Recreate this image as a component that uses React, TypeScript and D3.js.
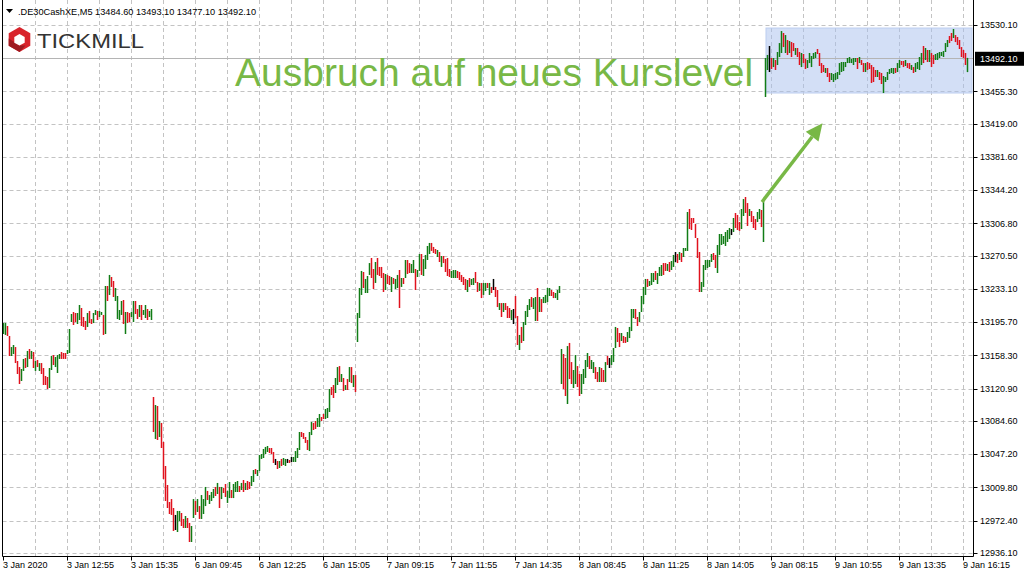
import React from "react";
import * as d3 from "d3";

// ---- Data (DE30 CashXE, M5) : bar highs / lows / direction (u=up, d=down, n=unchanged)
const jan3High = [
  13194.8, 13194.8, 13191.5, 13180.2, 13167.8, 13170.1, 13167.8, 13152.1, 13145.3, 13143.1,
  13154.4, 13155.5, 13163.4, 13165.6, 13163.4, 13162.2, 13152.1, 13153.2, 13149.8, 13149.8,
  13144.2, 13135.2, 13134.1, 13144.2, 13157.7, 13158.8, 13156.6, 13158.8, 13160.0, 13162.2,
  13161.1, 13161.1, 13164.5, 13188.1, 13205.0, 13207.2, 13206.1, 13206.1, 13215.1, 13211.7,
  13201.6, 13197.1, 13206.1, 13208.4, 13199.3, 13206.1, 13209.5, 13208.4, 13208.4, 13207.2,
  13203.9, 13236.5, 13236.5, 13248.9, 13246.6, 13242.1, 13234.2, 13225.2, 13209.5, 13219.6,
  13220.7, 13207.2, 13207.2, 13206.1, 13207.2, 13219.6, 13219.6, 13210.6, 13215.1, 13215.1,
  13209.5, 13215.1, 13210.6, 13208.4, 13210.6,
];
const jan3Low = [
  13182.5, 13181.4, 13180.2, 13157.7, 13157.7, 13160.0, 13149.8, 13137.5, 13126.2, 13129.6,
  13140.9, 13144.2, 13145.3, 13154.4, 13154.4, 13144.2, 13140.9, 13145.3, 13140.9, 13137.5,
  13125.1, 13125.1, 13120.6, 13121.7, 13142.0, 13147.6, 13145.3, 13138.6, 13154.4, 13154.4,
  13154.4, 13154.4, 13160.0, 13161.1, 13196.0, 13192.6, 13196.0, 13193.7, 13198.2, 13191.5,
  13190.4, 13187.0, 13190.4, 13194.8, 13193.7, 13194.8, 13203.9, 13198.2, 13201.6, 13203.9,
  13181.4, 13182.5, 13219.6, 13226.4, 13235.4, 13224.1, 13219.6, 13199.3, 13198.2, 13203.9,
  13193.7, 13182.5, 13194.8, 13196.0, 13201.6, 13196.0, 13205.0, 13199.3, 13201.6, 13198.2,
  13203.9, 13200.5, 13198.2, 13201.6, 13198.2,
];
const jan3Dir =
  "uudduudddu" + "ududududud" + "ddduuduuud" + "dduuudduud" + "ddudduuduu" +
  "dududduuuu" + "dudduuddud" + "uuduu";

const jan6High = [
  13111.6, 13102.6, 13101.5, 13084.6, 13082.4, 13061.0, 13034.0, 13012.6, 12993.5, 12996.8,
  12986.7, 12978.9, 12983.4, 12983.4, 12981.1, 12974.4, 12977.7, 12975.5, 12969.9, 12966.5,
  12996.8, 12994.6, 12996.8, 12988.9, 13001.3, 12996.8, 13010.4, 13005.9, 13001.3, 13004.7,
  13008.1, 13010.4, 13014.9, 13010.4, 13010.4, 13009.2, 13013.7, 13005.9, 13016.0, 13007.0,
  13013.7, 13016.0, 13017.1, 13011.5, 13014.9, 13018.2, 13014.9, 13017.1, 13016.0, 13022.7,
  13029.5, 13030.6, 13029.5, 13046.3, 13047.5, 13053.1, 13055.4, 13056.5, 13054.2, 13054.2,
  13049.7, 13041.9, 13039.6, 13039.6, 13041.9, 13043.0, 13041.9, 13041.9, 13040.7, 13044.1,
  13044.1, 13050.8, 13054.2, 13072.2, 13072.2, 13071.1, 13066.6, 13063.2, 13072.2, 13083.5,
  13082.4, 13084.6, 13088.0, 13092.5, 13089.1, 13092.5, 13098.1, 13099.2, 13120.6, 13122.8,
  13125.1, 13133.0, 13145.3, 13146.4, 13137.5, 13133.0, 13125.1, 13131.8, 13145.3, 13145.3,
  13136.3, 13136.3,
];
const jan6Low = [
  13072.2, 13064.4, 13063.2, 13066.6, 13054.2, 13019.4, 12994.6, 12986.7, 12980.0, 12978.9,
  12960.9, 12962.0, 12959.7, 12972.1, 12966.5, 12964.2, 12964.2, 12964.2, 12948.5, 12948.5,
  12975.5, 12978.9, 12982.2, 12974.4, 12974.4, 12980.0, 12988.9, 12995.7, 12991.2, 12994.6,
  12997.9, 13000.2, 13002.5, 12986.7, 12996.8, 13003.6, 12999.1, 12992.4, 12997.9, 12997.9,
  12997.9, 13004.7, 13004.7, 13004.7, 13007.0, 13004.7, 13007.0, 13007.0, 13008.1, 13011.5,
  13016.0, 13024.9, 13022.7, 13028.3, 13041.9, 13043.0, 13047.5, 13049.7, 13048.6, 13047.5,
  13037.4, 13035.1, 13030.6, 13031.7, 13034.0, 13035.1, 13034.0, 13037.4, 13037.4, 13038.5,
  13038.5, 13038.5, 13043.0, 13052.0, 13066.6, 13064.4, 13059.9, 13052.0, 13050.8, 13068.8,
  13074.5, 13075.6, 13077.9, 13077.9, 13084.6, 13086.8, 13086.8, 13088.0, 13094.7, 13113.8,
  13110.5, 13116.1, 13125.1, 13128.5, 13128.5, 13118.3, 13119.5, 13119.5, 13128.5, 13127.3,
  13122.8, 13117.2,
];
const jan6Dir =
  "dududddddd" + "dnuudduddu" + "ududuuuduu" + "udududduud" + "uuudududdu" +
  "uduuuuuudd" + "dnduduundn" + "uuuudddduu" + "dduudduuud" + "duudududud" + "ud";

const jan7High = [
  13206.1, 13234.2, 13253.4, 13252.2, 13244.4, 13247.7, 13262.3, 13268.0, 13255.6, 13263.5,
  13268.0, 13257.9, 13257.9, 13251.1, 13250.0, 13248.9, 13247.7, 13246.6, 13245.5, 13244.4,
  13248.9, 13254.5, 13245.5, 13245.5, 13265.7, 13265.7, 13262.3, 13261.2, 13265.7, 13255.6,
  13254.5, 13272.5, 13272.5, 13266.8, 13271.4, 13281.5, 13284.9, 13284.9, 13280.4, 13278.1,
  13277.0, 13274.7, 13270.2, 13270.2, 13266.8, 13268.0, 13255.6, 13253.4, 13254.5, 13254.5,
  13253.4, 13252.2, 13248.9, 13246.6, 13244.4, 13243.2, 13245.5, 13244.4, 13245.5, 13252.2,
  13241.0, 13239.9, 13239.9, 13239.9, 13239.9, 13239.9, 13239.9, 13235.4, 13244.4, 13235.4,
  13232.0, 13217.3, 13217.3, 13217.3, 13217.3, 13213.9, 13211.7, 13209.5, 13210.6, 13225.2,
  13202.7, 13181.4, 13190.4, 13196.0, 13208.4, 13215.1, 13221.8, 13224.1, 13222.9, 13224.1,
  13234.2, 13224.1, 13221.8, 13224.1, 13226.4, 13234.2, 13234.2, 13232.0, 13229.7, 13228.6,
  13232.0, 13236.5,
];
const jan7Low = [
  13173.5, 13200.5, 13226.4, 13234.2, 13228.6, 13228.6, 13248.9, 13245.5, 13233.1, 13239.9,
  13248.9, 13247.7, 13245.5, 13229.7, 13232.0, 13238.7, 13237.6, 13229.7, 13238.7, 13233.1,
  13234.2, 13211.7, 13235.4, 13238.7, 13245.5, 13250.0, 13251.1, 13251.1, 13251.1, 13232.0,
  13246.6, 13253.4, 13248.9, 13247.7, 13255.6, 13265.7, 13272.5, 13275.9, 13273.6, 13272.5,
  13269.1, 13263.5, 13257.9, 13262.3, 13252.2, 13247.7, 13246.6, 13245.5, 13245.5, 13245.5,
  13245.5, 13243.2, 13241.0, 13237.6, 13232.0, 13229.7, 13235.4, 13237.6, 13237.6, 13239.9,
  13229.7, 13230.9, 13222.9, 13226.4, 13230.9, 13234.2, 13226.4, 13228.6, 13232.0, 13224.1,
  13212.8, 13209.5, 13201.6, 13207.2, 13209.5, 13200.5, 13200.5, 13198.2, 13193.7, 13200.5,
  13170.1, 13164.5, 13172.4, 13174.6, 13192.6, 13201.6, 13209.5, 13212.8, 13210.6, 13197.1,
  13197.1, 13207.2, 13207.2, 13217.3, 13217.3, 13218.5, 13225.2, 13225.2, 13222.9, 13222.9,
  13220.7, 13228.6,
];
const jan7Dir =
  "uuuduuuddu" + "dddduddudu" + "udududduud" + "uuduuuuddd" + "ududdddu" + "uu" +
  "ddddduduud" + "duduududnd" + "dududddund" + "duduuuuduu" + "duduuuuddu" + "uu";

const jan8High = [
  13165.6, 13160.0, 13155.5, 13168.9, 13172.4, 13150.9, 13142.0, 13158.8, 13146.4, 13137.5,
  13137.5, 13143.1, 13153.2, 13161.1, 13157.7, 13153.2, 13150.9, 13145.3, 13139.7, 13145.3,
  13144.2, 13142.0, 13150.9, 13157.7, 13155.5, 13158.8, 13166.7, 13190.4, 13189.2, 13183.6,
  13183.6, 13180.2, 13179.1, 13184.7, 13190.4, 13210.6, 13210.6, 13210.6, 13201.6, 13207.2,
  13225.2, 13235.4, 13244.4, 13244.4, 13242.1, 13251.1, 13251.1, 13253.4, 13251.1, 13257.9,
  13260.1, 13262.3, 13262.3, 13261.2, 13263.5, 13264.6, 13271.4, 13274.7, 13272.5, 13274.7,
  13273.6, 13279.2, 13279.2, 13319.7, 13323.1, 13313.0, 13313.0, 13306.2, 13290.5, 13274.7,
  13241.0, 13260.1, 13265.7, 13265.7, 13265.7, 13272.5, 13273.6, 13271.4, 13282.6, 13295.0,
  13295.0, 13292.7, 13297.2, 13299.5, 13301.7, 13300.6, 13313.0, 13318.6, 13316.4, 13308.5,
  13323.1, 13334.3, 13336.6, 13329.8, 13323.1, 13320.8, 13315.2, 13311.8, 13319.7, 13323.1,
  13322.0, 13332.1,
];
const jan8Low = [
  13126.2, 13120.6, 13112.7, 13103.7, 13131.8, 13126.2, 13121.7, 13126.2, 13122.8, 13112.7,
  13115.0, 13126.2, 13133.0, 13145.3, 13143.1, 13143.1, 13138.6, 13131.8, 13128.5, 13128.5,
  13128.5, 13128.5, 13128.5, 13147.6, 13144.2, 13147.6, 13150.9, 13166.7, 13173.5, 13167.8,
  13174.6, 13172.4, 13172.4, 13173.5, 13177.9, 13185.8, 13200.5, 13199.3, 13191.5, 13196.0,
  13207.2, 13216.2, 13226.4, 13235.4, 13236.5, 13237.6, 13241.0, 13243.2, 13238.7, 13247.7,
  13247.7, 13248.9, 13253.4, 13253.4, 13252.2, 13254.5, 13257.9, 13263.5, 13262.3, 13265.7,
  13263.5, 13269.1, 13275.9, 13275.9, 13300.6, 13299.5, 13307.4, 13290.5, 13268.0, 13229.7,
  13229.7, 13235.4, 13254.5, 13256.7, 13257.9, 13263.5, 13265.7, 13256.7, 13251.1, 13271.4,
  13282.6, 13283.7, 13281.5, 13286.0, 13289.3, 13293.8, 13297.2, 13301.7, 13299.5, 13298.4,
  13300.6, 13315.2, 13318.6, 13304.0, 13315.2, 13308.5, 13301.7, 13299.5, 13308.5, 13311.8,
  13302.8, 13286.0,
];
const jan8Dir =
  "uddudduudd" + "uuuuduuddu" + "ddudnuuudd" + "udduuuuddu" + "uuuduuuduu" +
  "udduduundu" + "duuudddddd" + "uuuuuudduu" + "uuuuunuddd" + "uudduddduu" + "du";

const jan9High = [
  13493.0, 13496.4, 13506.5, 13493.0, 13493.0, 13490.7, 13499.7, 13509.8, 13523.3, 13521.1,
  13518.8, 13513.2, 13512.1, 13511.0, 13509.8, 13504.2, 13504.2, 13499.7, 13498.6, 13497.5,
  13491.9, 13490.7, 13498.6, 13495.2, 13498.6, 13499.7, 13503.1, 13498.6, 13487.3, 13485.1,
  13481.7, 13481.7, 13476.1, 13476.1, 13475.0, 13476.1, 13477.2, 13487.3, 13488.5, 13488.5,
  13488.5, 13493.0, 13494.1, 13491.9, 13493.0, 13493.0, 13493.0, 13494.1, 13490.7, 13487.3,
  13487.3, 13488.5, 13487.3, 13485.1, 13482.8, 13479.5, 13479.5, 13477.2, 13476.1, 13472.7,
  13471.6, 13477.2, 13480.6, 13481.7, 13481.7, 13481.7, 13487.3, 13490.7, 13489.6, 13489.6,
  13490.7, 13487.3, 13487.3, 13485.1, 13482.8, 13487.3, 13488.5, 13494.1, 13498.6, 13506.5,
  13504.2, 13502.0, 13502.0, 13498.6, 13496.4, 13497.5, 13498.6, 13499.7, 13499.7, 13500.8,
  13509.8, 13513.2, 13517.7, 13521.1, 13525.6, 13518.8, 13516.6, 13513.2, 13505.3, 13502.0,
  13498.6, 13493.1,
];
const jan9Low = [
  13449.1, 13479.5, 13477.2, 13480.6, 13482.8, 13479.5, 13485.1, 13494.1, 13498.6, 13505.3,
  13498.6, 13496.4, 13498.6, 13494.1, 13500.8, 13496.4, 13494.1, 13485.1, 13482.8, 13487.3,
  13480.6, 13481.7, 13487.3, 13482.8, 13491.9, 13493.0, 13497.5, 13484.0, 13476.1, 13477.2,
  13476.1, 13471.6, 13466.0, 13468.2, 13466.0, 13468.2, 13469.3, 13473.9, 13477.2, 13478.3,
  13482.8, 13487.3, 13487.3, 13487.3, 13485.1, 13488.5, 13480.6, 13487.3, 13485.1, 13477.2,
  13477.2, 13479.5, 13480.6, 13464.9, 13466.0, 13471.6, 13471.6, 13468.2, 13463.7, 13453.6,
  13466.0, 13468.2, 13475.0, 13476.1, 13475.0, 13476.1, 13477.2, 13481.7, 13485.1, 13482.8,
  13484.0, 13481.7, 13480.6, 13479.5, 13476.1, 13477.2, 13480.6, 13479.5, 13485.1, 13487.3,
  13490.7, 13488.5, 13488.5, 13482.8, 13486.2, 13490.7, 13490.7, 13493.0, 13495.2, 13494.1,
  13499.7, 13505.3, 13509.8, 13512.1, 13515.5, 13510.9, 13507.6, 13503.1, 13494.1, 13493.0,
  13485.1, 13477.1,
];
const jan9Dir =
  "uunduduuud" + "ududduddud" + "duuuuudddd" + "udduuuuuuu" + "uuuuuududd" +
  "uddddduddu" + "uuuuuduudd" + "udduduuuud" + "ududduuuuu" + "uudduddddd" + "du";

const priceTicks = [
  13530.1, 13455.3, 13419.0, 13381.6, 13344.2, 13306.8, 13270.5, 13233.1,
  13195.7, 13158.3, 13120.9, 13084.6, 13047.2, 13009.8, 12972.4, 12936.1,
];
const timeLabels = [
  "3 Jan 2020", "3 Jan 12:55", "3 Jan 15:35", "6 Jan 09:45", "6 Jan 12:25", "6 Jan 15:05",
  "7 Jan 09:15", "7 Jan 11:55", "7 Jan 14:35", "8 Jan 08:45", "8 Jan 11:25", "8 Jan 14:05",
  "9 Jan 08:15", "9 Jan 10:55", "9 Jan 13:35", "9 Jan 16:15",
];
const symbolName = ".DE30CashXE,M5";
const lastOHLC = [13484.6, 13493.1, 13477.1, 13492.1];
const bidPrice = 13492.1;
const zoneTop = 13526.7;
const zoneBottom = 13453.6;
const zoneStartBar = 381;
const annotation = "Ausbruch auf neues Kurslevel";

const COL_UP = "#117c16";
const COL_DOWN = "#e0121d";
const COL_FLAT = "#000000";
const GREEN = "#78b846";
const FONT = "'Liberation Sans', Arial, sans-serif";

export default function App() {
  const W = 1024;
  const H = 576;
  const plotLeft = 2.5;
  const plotRight = 973.5;
  const plotBottom = 556.5;

  const days = [
    { high: jan3High, low: jan3Low, dir: jan3Dir },
    { high: jan6High, low: jan6Low, dir: jan6Dir },
    { high: jan7High, low: jan7Low, dir: jan7Dir },
    { high: jan8High, low: jan8Low, dir: jan8Dir },
    { high: jan9High, low: jan9Low, dir: jan9Dir },
  ];
  const bars = days.flatMap((d) =>
    d.high.map((h, j) => ({ h, l: d.low[j], dir: d.dir[j] }))
  );
  const n = bars.length;

  const x = d3.scaleLinear().domain([0, n - 1]).range([3, 3 + 2 * (n - 1)]);
  const y = d3.scaleLinear().domain([12936.1, 13530.1]).range([553, 25]);

  const gridIdx = d3.range(16, n, 16);
  const labelIdx = timeLabels.map((_, k) => k * 32);

  const fmt = d3.format(".2f");
  const arrowTail = [x(380) - 1, y(13331)];
  const arrowTip = [x(410) - 0.5, y(13419.6)];
  const ang = Math.atan2(arrowTip[1] - arrowTail[1], arrowTip[0] - arrowTail[0]);
  const headLen = 17;
  const headW = 8;
  const bx = arrowTip[0] - headLen * Math.cos(ang);
  const by = arrowTip[1] - headLen * Math.sin(ang);
  const px = -Math.sin(ang);
  const py = Math.cos(ang);
  const head = [
    [arrowTip[0], arrowTip[1]],
    [bx + headW * px, by + headW * py],
    [bx - headW * px, by - headW * py],
  ];

  const bidY = y(bidPrice);

  return (
    <svg
      width={W}
      height={H}
      style={{ position: "absolute", left: 0, top: 0, background: "#fff" }}
      fontFamily={FONT}
    >
      <rect x={0} y={0} width={W} height={H} fill="#fff" />
      {/* grid */}
      <g stroke="#c3c3c3" strokeWidth={1} strokeDasharray="4,3">
        {priceTicks.map((p) => (
          <line key={"h" + p} x1={plotLeft} x2={plotRight} y1={Math.round(y(p)) + 0.5} y2={Math.round(y(p)) + 0.5} />
        ))}
        {gridIdx.map((i) => (
          <line key={"v" + i} x1={x(i) + 0.5} x2={x(i) + 0.5} y1={0} y2={plotBottom} />
        ))}
      </g>

      {/* highlighted zone */}
      <rect
        x={x(zoneStartBar) + 1}
        y={y(zoneTop)}
        width={x(n - 1) + 4 - x(zoneStartBar)}
        height={y(zoneBottom) - y(zoneTop)}
        fill="#a8c0ee"
        fillOpacity={0.5}
        stroke="#bccdf0"
        strokeWidth={1}
      />

      {/* bid line */}
      <line x1={plotLeft} x2={plotRight} y1={Math.round(bidY) - 0.5} y2={Math.round(bidY) - 0.5} stroke="#b4b4b4" strokeWidth={1} />

      {/* bars */}
      <g strokeWidth={1.5}>
        {bars.map((b, i) => {
          const y1 = y(b.h);
          let y2 = y(b.l);
          if (y2 - y1 < 1) y2 = y1 + 1;
          const c = b.dir === "u" ? COL_UP : b.dir === "d" ? COL_DOWN : COL_FLAT;
          return <line key={i} x1={x(i) + 0.5} x2={x(i) + 0.5} y1={y1} y2={y2} stroke={c} />;
        })}
      </g>

      {/* frame */}
      <g stroke="#000" strokeWidth={1}>
        <line x1={plotLeft} x2={plotLeft} y1={0} y2={plotBottom} />
        <line x1={plotRight} x2={plotRight} y1={0} y2={plotBottom} />
        <line x1={plotLeft} x2={plotRight} y1={plotBottom} y2={plotBottom} />
      </g>

      {/* right axis */}
      <g fontSize={9} fill="#000">
        {priceTicks.map((p) => (
          <g key={"t" + p}>
            <line x1={plotRight} x2={plotRight + 4} y1={Math.round(y(p)) + 0.5} y2={Math.round(y(p)) + 0.5} stroke="#000" />
            <text x={980} y={y(p)} dy="0.35em">{fmt(p)}</text>
          </g>
        ))}
      </g>
      <rect x={975} y={bidY - 7} width={49} height={14} fill="#000" />
      <text x={980} y={bidY} dy="0.35em" fontSize={9} fill="#fff">{fmt(bidPrice)}</text>

      {/* bottom axis */}
      <g fontSize={9} fill="#000">
        {labelIdx.map((i, k) => (
          <g key={"b" + i}>
            <line x1={x(i) + 0.5} x2={x(i) + 0.5} y1={plotBottom} y2={plotBottom + 4} stroke="#000" />
            <text x={x(i)} y={568}>{timeLabels[k]}</text>
          </g>
        ))}
      </g>

      {/* header */}
      <path d="M6,9 L13,9 L9.5,13 Z" fill="#000" />
      <text x={18} y={15} fontSize={9.2} fill="#000">
        {symbolName + "  " + lastOHLC.map((v) => fmt(v)).join(" ")}
      </text>

      {/* logo */}
      <g transform="translate(19.5,39.5)">
        <path d="M0,-12.5 L10.8,-6.25 L10.8,6.25 L0,12.5 L-10.8,6.25 L-10.8,-6.25 Z" fill="#d8232b" />
        <path d="M0,12.5 L-10.8,6.25 L-10.8,-1 L0,6 L6,6 L0,12.5 Z" fill="#9e1a20" />
        <path d="M0,-5.5 L5.2,-2.6 L5.2,3.2 L0,6 L-5.2,3.2 L-5.2,-2.6 Z" fill="#fff" />
      </g>
      <text x={37} y={47.5} fontSize={21} fill="#333" textLength={107} lengthAdjust="spacingAndGlyphs">
        TICKMILL
      </text>

      {/* annotation */}
      <text x={235} y={86} fontSize={39} fill={GREEN}>{annotation}</text>
      <line
        x1={arrowTail[0]}
        y1={arrowTail[1]}
        x2={bx}
        y2={by}
        stroke={GREEN}
        strokeWidth={3.5}
      />
      <path d={"M" + head.map((p) => p.join(",")).join("L") + "Z"} fill={GREEN} />
    </svg>
  );
}
